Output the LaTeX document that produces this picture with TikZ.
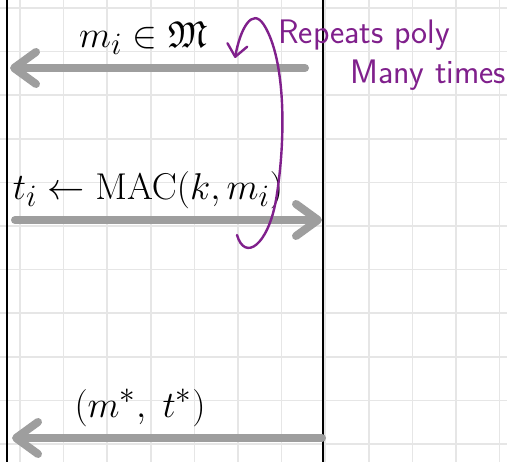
\documentclass[tikz,border=0pt]{standalone}
\usepackage{amsmath, amssymb}
\usepackage{graphicx}
\usepackage{xcolor}
\usetikzlibrary{arrows.meta, positioning}
\definecolor{gridgray}{RGB}{230,230,230}
\definecolor{arrowgray}{RGB}{158,158,158}
\definecolor{notepurple}{RGB}{128,32,140}
\newcommand{\hand}[1]{\scalebox{1.5}{$#1$}}

\begin{document}
\begin{tikzpicture}[x=1pt, y=-1pt,
      gridline/.style={draw=gridgray, line width=1.6pt},
      party/.style={draw=black, line width=1.6pt},
      msg/.style={line width=8pt, color=arrowgray, line cap=round,
                  -{Straight Barb[round, length=22pt, width=32pt]}},
      lbl/.style={font=\fontsize{24.88}{28}\selectfont, inner sep=0pt},
      note/.style={color=notepurple, font=\fontsize{34}{36}\selectfont\sffamily,
                   inner sep=0pt, anchor=base west},
      loopline/.style={draw=notepurple, line width=2.4pt, line cap=round,
                       -{Straight Barb[round, length=12pt, width=20pt]}}
  ]
    \useasboundingbox (0,0) rectangle (507,462);
    \fill[white] (0,0) rectangle (507,462);

    % squared paper
    \foreach \i in {0,...,11}
      \draw[gridline] ({20+43.6*\i},0) -- ++(0,462);
    \foreach \j in {0,...,10}
      \draw[gridline] (0,{8+43.6*\j}) -- ++(507,0);

    % the two parties
    \coordinate (lefttop) at (7,0);
    \coordinate (leftbot) at (7,462);
    \coordinate (righttop) at (323,0);
    \coordinate (rightbot) at (323,462);
    \draw[party] (lefttop) -- (leftbot);
    \draw[party] (righttop) -- (rightbot);

    % messages
    \coordinate (q1) at (305,68);
    \coordinate (q0) at (10,68);
    \coordinate (t0) at (15,220);
    \coordinate (t1) at (322,220);
    \coordinate (f1) at (322,438);
    \coordinate (f0) at (12,438);
    \draw[msg] (q1) -- (q0);
    \draw[msg] (t0) -- (t1);
    \draw[msg] (f1) -- (f0);

    \node[lbl] (query) at (143,38)  {\hand{m_i \in \mathfrak{M}}};
    \node[lbl] (tag)   at (148,190) {\hand{t_i \leftarrow \mathrm{MAC}(k, m_i)}};
    \node[lbl] (forge) at (140,408) {\hand{(m^*,\; t^*)}};

    % repeat note
    \coordinate (loopbot) at (237,235);
    \coordinate (looptip) at (235,58);
    \draw[loopline] (loopbot) .. controls (245,262) and (268,245) .. (276,200)
                    .. controls (286,140) and (286,60) .. (264,25)
                    .. controls (252,6) and (240,30) .. (looptip);
    \node[note] (rep)  at (278,44) {Repeats poly};
    \node[note] (many) at (350,84) {Many times};
\end{tikzpicture}
\end{document}
